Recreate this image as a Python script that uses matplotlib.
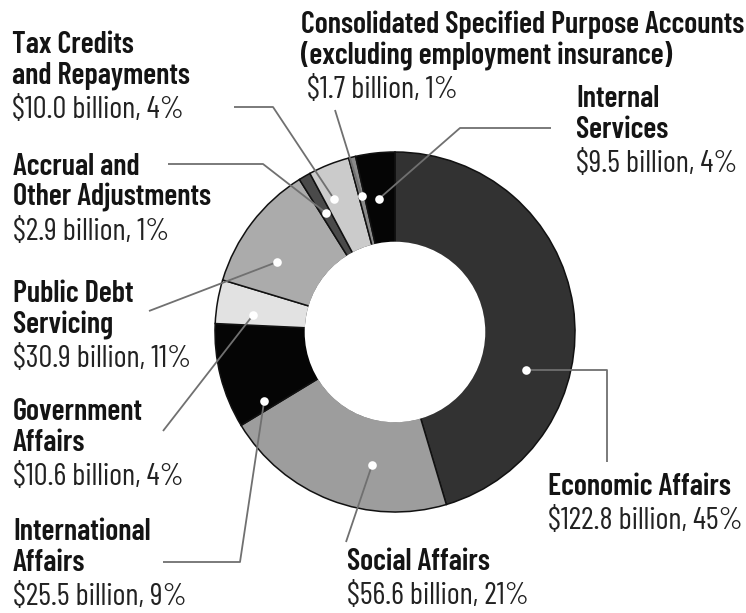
import numpy as np
import matplotlib.pyplot as plt

# 支出类别（顺时针，从12点方向开始）
categories = [
    "Economic Affairs",
    "Social Affairs",
    "International Affairs",
    "Government Affairs",
    "Public Debt Servicing",
    "Accrual and Other Adjustments",
    "Tax Credits and Repayments",
    "Consolidated Specified Purpose Accounts",
    "Internal Services",
]
amounts = [122.8, 56.6, 25.5, 10.6, 30.9, 2.9, 10.0, 1.7, 9.5]   # 十亿元
shares = [45, 21, 9, 4, 11, 1, 4, 1, 4]                          # 百分比

# 标签文字（粗体标题行）
title_lines = [
    ["Economic Affairs"],
    ["Social Affairs"],
    ["International", "Affairs"],
    ["Government", "Affairs"],
    ["Public Debt", "Servicing"],
    ["Accrual and", "Other Adjustments"],
    ["Tax Credits", "and Repayments"],
    ["Consolidated Specified Purpose Accounts", "(excluding employment insurance)"],
    ["Internal", "Services"],
]

colors = ["#323232", "#9d9d9d", "#050505", "#e2e2e2", "#ababab",
          "#4a4a4a", "#cbcbcb", "#8a8a8a", "#050505"]

FONT = ["Barlow Condensed", "DejaVu Sans"]

W, H = 746, 613
CX, CY, R, R_IN = 395, 332, 180, 89.5

fig = plt.figure(figsize=(W / 100, H / 100), dpi=100)
ax = fig.add_axes([0, 0, 1, 1])

# y轴反向，按像素坐标布局；startangle=-90 + 逆时针 => 视觉上从顶部顺时针
wedges, _ = ax.pie(amounts, colors=colors, startangle=-90, counterclock=True,
                   radius=R, center=(CX, CY),
                   wedgeprops=dict(width=R - R_IN, edgecolor="#111111", linewidth=1.1))
# 中心白洞盖住内侧描边
ax.add_patch(plt.Circle((CX, CY), R_IN + 0.8, facecolor="white", edgecolor="none", zorder=2))
ax.set_xlim(0, W)
ax.set_ylim(H, 0)
ax.axis("off")

# 圆点在扇区内的位置（扇区角度比例, 半径）
dot_pos = [(0.65, 136), (0.35, 135), (0.10, 148), (0.29, 143), (0.34, 137),
           (0.50, 138), (0.27, 146), (0.50, 140), (0.45, 134)]

# 引线折点（像素），None 表示沿圆点高度水平引出
leaders = [
    [(607, None), (607, 462)],
    [(346, 542)],
    [(240, 562), (163, 562)],
    [(163, 431)],
    [(149, 311)],
    [(263, 164), (168, 164)],
    [(273, 107), (234, 107)],
    [(335, 110)],
    [(460, 128), (551, 128)],
]

# 文字块位置：(x, 第一行基线)
text_pos = [(548, 495), (347, 570), (13, 540), (13, 420), (13, 302),
            (13, 175), (12, 53), (301, 33), (576, 107)]
value_dx = [0, 0, 0, 0, 0, 0, 0, 6, 0]

LINE = 31
VAL_GAP = 34

bold_texts, reg_texts = [], []
for i, w in enumerate(wedges):
    frac, rr = dot_pos[i]
    theta = np.deg2rad(w.theta1 + frac * (w.theta2 - w.theta1))
    dx, dy = CX + rr * np.cos(theta), CY + rr * np.sin(theta)
    pts = [(dx, dy)]
    for px, py in leaders[i]:
        pts.append((px, dy if py is None else py))
    xs, ys = zip(*pts)
    ax.plot(xs, ys, color="#707070", lw=1.3, solid_capstyle="butt", zorder=3)
    ax.plot(dx, dy, "o", ms=6.2, mfc="white", mec="none", zorder=4)

    tx, ty = text_pos[i]
    for k, line in enumerate(title_lines[i]):
        bold_texts.append(ax.text(tx, ty + k * LINE, line, fontsize=20, fontweight="semibold",
                                  family=FONT, va="baseline", ha="left", color="#141414"))
    vy = ty + (len(title_lines[i]) - 1) * LINE + VAL_GAP
    reg_texts.append(ax.text(tx + value_dx[i], vy, f"${amounts[i]:.1f} billion, {shares[i]}%",
                             fontsize=20, family=FONT, va="baseline", ha="left",
                             color="#222222"))

# 按宽度调整字号：Consolidated 标题行 443px，"$122.8 billion, 45%" 195px
fig.canvas.draw()
rend = fig.canvas.get_renderer()
wb = bold_texts[-4].get_window_extent(rend).width
wr = reg_texts[0].get_window_extent(rend).width
fs_b = 20 * 443 / wb
fs_r = 20 * 195 / wr
for t in bold_texts:
    t.set_fontsize(fs_b)
for t in reg_texts:
    t.set_fontsize(fs_r)

fig.savefig("out.png", dpi=100)
